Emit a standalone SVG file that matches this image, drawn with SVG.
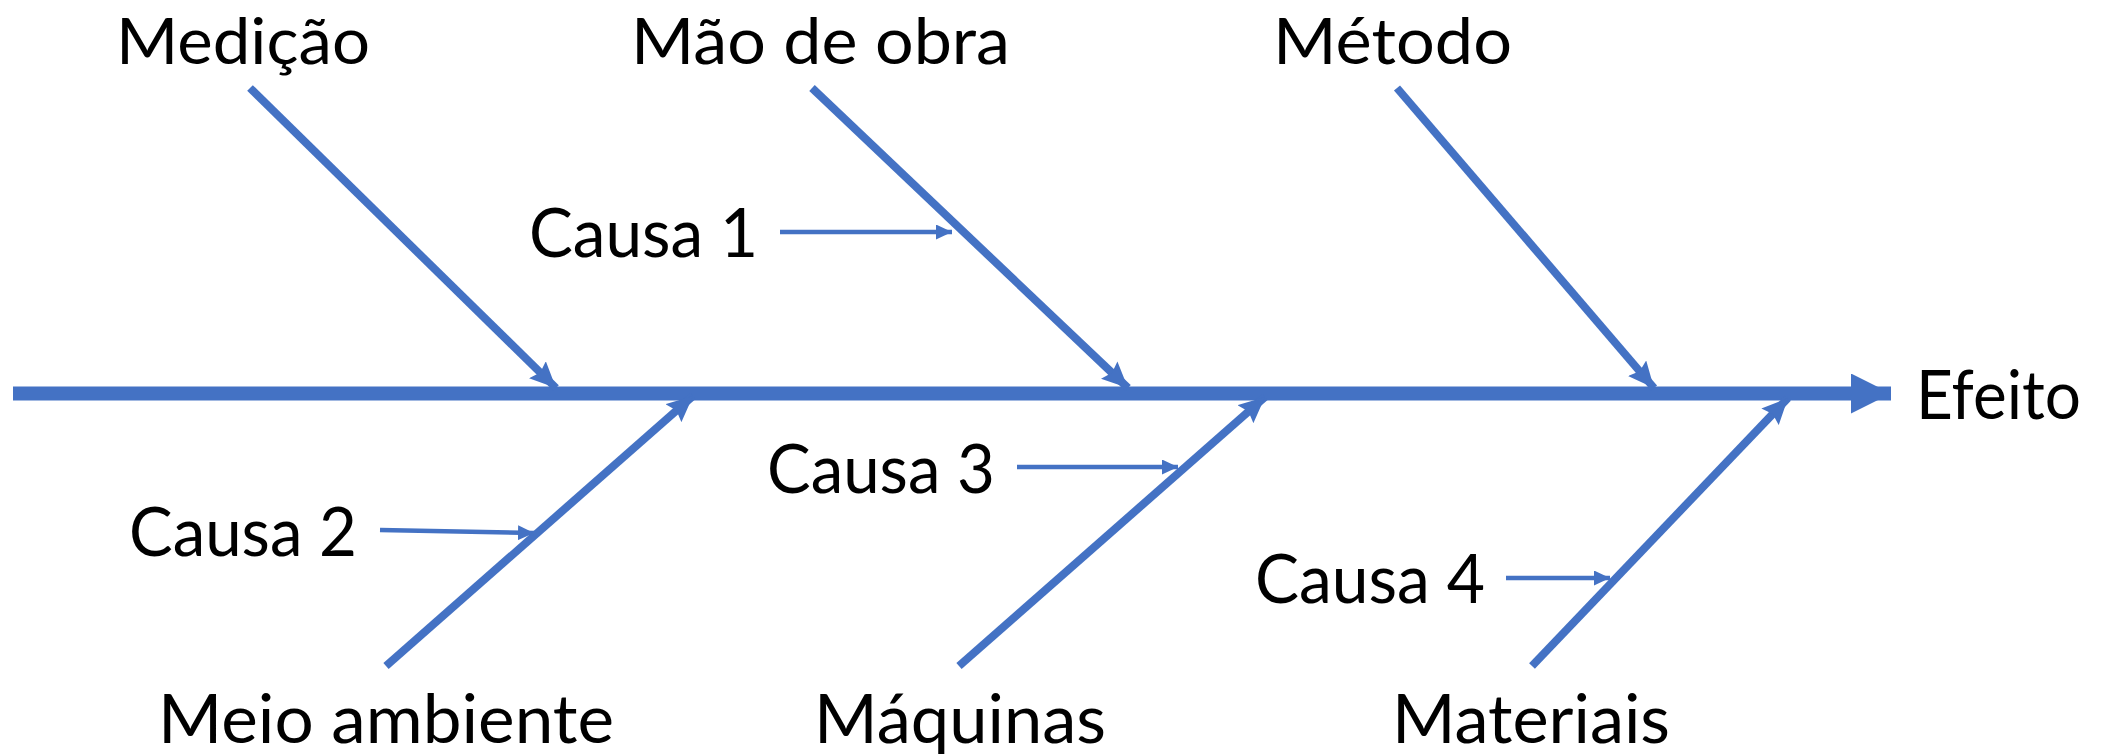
<svg xmlns="http://www.w3.org/2000/svg" width="2105" height="754" viewBox="0 0 2105 754">
<style>
text{font-family:Lato,"Open Sans","Liberation Sans",sans-serif;font-size:68px;fill:#000}
text.top{font-size:64px}
.main{stroke:#4472C4;stroke-width:14;fill:none}
.bone{stroke:#4472C4;stroke-width:8;fill:none}
.sub{stroke:#4472C4;stroke-width:4.5;fill:none}
</style>
<defs>
<marker id="bigHead" markerUnits="userSpaceOnUse" markerWidth="40" markerHeight="40" viewBox="0 0 38 38" refX="38" refY="19" orient="auto"><path d="M0,0 L38,19 L0,38 z" fill="#4472C4"/></marker>
<marker id="boneHead" markerUnits="userSpaceOnUse" markerWidth="26" markerHeight="24" viewBox="0 0 26 24" refX="26" refY="12" orient="auto"><path d="M0,0 L26,12 L0,24 L4,12 z" fill="#4472C4"/></marker>
<marker id="subHead" markerUnits="userSpaceOnUse" markerWidth="16" markerHeight="15" viewBox="0 0 16 15" refX="16" refY="7.5" orient="auto"><path d="M0,0 L16,7.5 L0,15 z" fill="#4472C4"/></marker>
</defs>
<g id="connectors">
<line class="main" x1="13" y1="393.5" x2="1891" y2="393.5" marker-end="url(#bigHead)"/>
<line class="bone" x1="250" y1="88" x2="556" y2="388" marker-end="url(#boneHead)"/>
<line class="bone" x1="812" y1="88" x2="1128" y2="388" marker-end="url(#boneHead)"/>
<line class="bone" x1="1397" y1="88" x2="1654" y2="388" marker-end="url(#boneHead)"/>
<line class="bone" x1="386" y1="666" x2="693" y2="396" marker-end="url(#boneHead)"/>
<line class="bone" x1="959" y1="666" x2="1265" y2="397" marker-end="url(#boneHead)"/>
<line class="bone" x1="1532" y1="666" x2="1788" y2="398" marker-end="url(#boneHead)"/>
<line class="sub" x1="780" y1="232" x2="952" y2="232" marker-end="url(#subHead)"/>
<line class="sub" x1="380" y1="530" x2="534" y2="533" marker-end="url(#subHead)"/>
<line class="sub" x1="1017" y1="467" x2="1178" y2="467" marker-end="url(#subHead)"/>
<line class="sub" x1="1506" y1="578" x2="1610" y2="578" marker-end="url(#subHead)"/>
</g>
<g id="medicao"><text class="top" x="116" y="64" textLength="254" lengthAdjust="spacingAndGlyphs">Medição</text></g>
<g id="mao-de-obra"><text class="top" x="631" y="64" textLength="379" lengthAdjust="spacingAndGlyphs">Mão de obra</text></g>
<g id="metodo"><text class="top" x="1273" y="64" textLength="239" lengthAdjust="spacingAndGlyphs">Método</text></g>
<g id="efeito"><text x="1916" y="419" textLength="165" lengthAdjust="spacingAndGlyphs">Efeito</text></g>
<g id="causa1"><text x="529" y="257" textLength="229" lengthAdjust="spacingAndGlyphs">Causa 1</text></g>
<g id="causa2"><text x="129" y="556" textLength="228" lengthAdjust="spacingAndGlyphs">Causa 2</text></g>
<g id="causa3"><text x="767" y="493" textLength="228" lengthAdjust="spacingAndGlyphs">Causa 3</text></g>
<g id="causa4"><text x="1255" y="603" textLength="230" lengthAdjust="spacingAndGlyphs">Causa 4</text></g>
<g id="meio-ambiente"><text x="158" y="743" textLength="456" lengthAdjust="spacingAndGlyphs">Meio ambiente</text></g>
<g id="maquinas"><text x="814" y="743" textLength="292" lengthAdjust="spacingAndGlyphs">Máquinas</text></g>
<g id="materiais"><text x="1392" y="743" textLength="278" lengthAdjust="spacingAndGlyphs">Materiais</text></g>
</svg>
